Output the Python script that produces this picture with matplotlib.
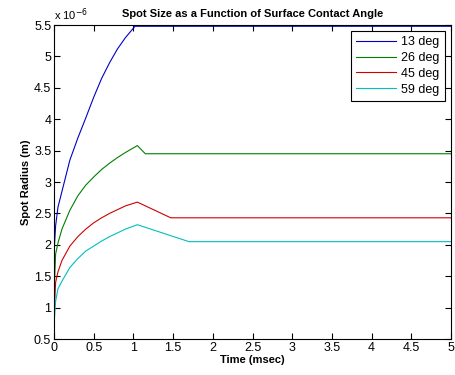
import matplotlib.pyplot as plt

plt.rcParams['font.family'] = ['Liberation Sans', 'DejaVu Sans']

# spot radius (x 1e-6 m) vs time (msec)
t13 = [0, 0.02, 0.05, 0.1, 0.2, 0.3, 0.4, 0.5, 0.6, 0.7, 0.8, 0.9, 1.02, 5]
r13 = [1.87, 2.3, 2.6, 2.85, 3.35, 3.7, 4.02, 4.35, 4.65, 4.9, 5.12, 5.3, 5.48, 5.48]

t26 = [0, 0.02, 0.05, 0.1, 0.2, 0.3, 0.4, 0.5, 0.6, 0.7, 0.8, 0.9, 1.05, 1.15, 5]
r26 = [1.2, 1.85, 2.03, 2.25, 2.55, 2.78, 2.95, 3.08, 3.2, 3.3, 3.39, 3.47, 3.58, 3.45, 3.45]

t45 = [0, 0.02, 0.05, 0.1, 0.2, 0.3, 0.4, 0.5, 0.6, 0.7, 0.8, 0.9, 1.05, 1.47, 5]
r45 = [0.85, 1.4, 1.57, 1.75, 1.98, 2.13, 2.25, 2.35, 2.43, 2.5, 2.56, 2.62, 2.68, 2.43, 2.43]

t59 = [0, 0.02, 0.05, 0.1, 0.2, 0.3, 0.4, 0.5, 0.6, 0.7, 0.8, 0.9, 1.05, 1.7, 5]
r59 = [0.72, 1.1, 1.3, 1.42, 1.64, 1.78, 1.9, 1.98, 2.06, 2.13, 2.19, 2.25, 2.32, 2.05, 2.05]

labels = ['13 deg', '26 deg', '45 deg', '59 deg']
colors = ['#0000c8', '#008000', '#d00000', '#00bfbf']

fig = plt.figure(figsize=(4.55, 3.75), dpi=100)
ax = fig.add_axes([0.1187, 0.096, 0.8725, 0.8373])

for t, r, lab, c in zip([t13, t26, t45, t59], [r13, r26, r45, r59], labels, colors):
    ax.plot(t, r, color=c, lw=0.8, label=lab)

ax.set_xlim(0, 5)
ax.set_ylim(0.5, 5.5)
ax.set_xticks([0, 0.5, 1, 1.5, 2, 2.5, 3, 3.5, 4, 4.5, 5])
ax.set_xticklabels(['0', '0.5', '1', '1.5', '2', '2.5', '3', '3.5', '4', '4.5', '5'])
ax.set_yticks([0.5, 1, 1.5, 2, 2.5, 3, 3.5, 4, 4.5, 5, 5.5])
ax.set_yticklabels(['0.5', '1', '1.5', '2', '2.5', '3', '3.5', '4', '4.5', '5', '5.5'])
ax.tick_params(direction='in', top=True, right=True, labelsize=9, length=4, pad=2)

ax.set_xlabel('Time (msec)', fontsize=8, fontweight='bold', labelpad=1)
ax.set_ylabel('Spot Radius (m)', fontsize=8, fontweight='bold', labelpad=2)
ax.set_title('Spot Size as a Function of Surface Contact Angle', fontsize=8,
             fontweight='bold', pad=6)
ax.text(0.0, 1.005, r'x 10$^{-6}$', transform=ax.transAxes, fontsize=8,
        ha='left', va='bottom')

leg = ax.legend(loc='upper right', fontsize=9, fancybox=False, framealpha=1,
                edgecolor='black', handlelength=3.2, borderaxespad=0.5,
                labelspacing=0.3, handletextpad=0.4)
leg.get_frame().set_linewidth(0.8)

fig.savefig('out.png', dpi=100)
